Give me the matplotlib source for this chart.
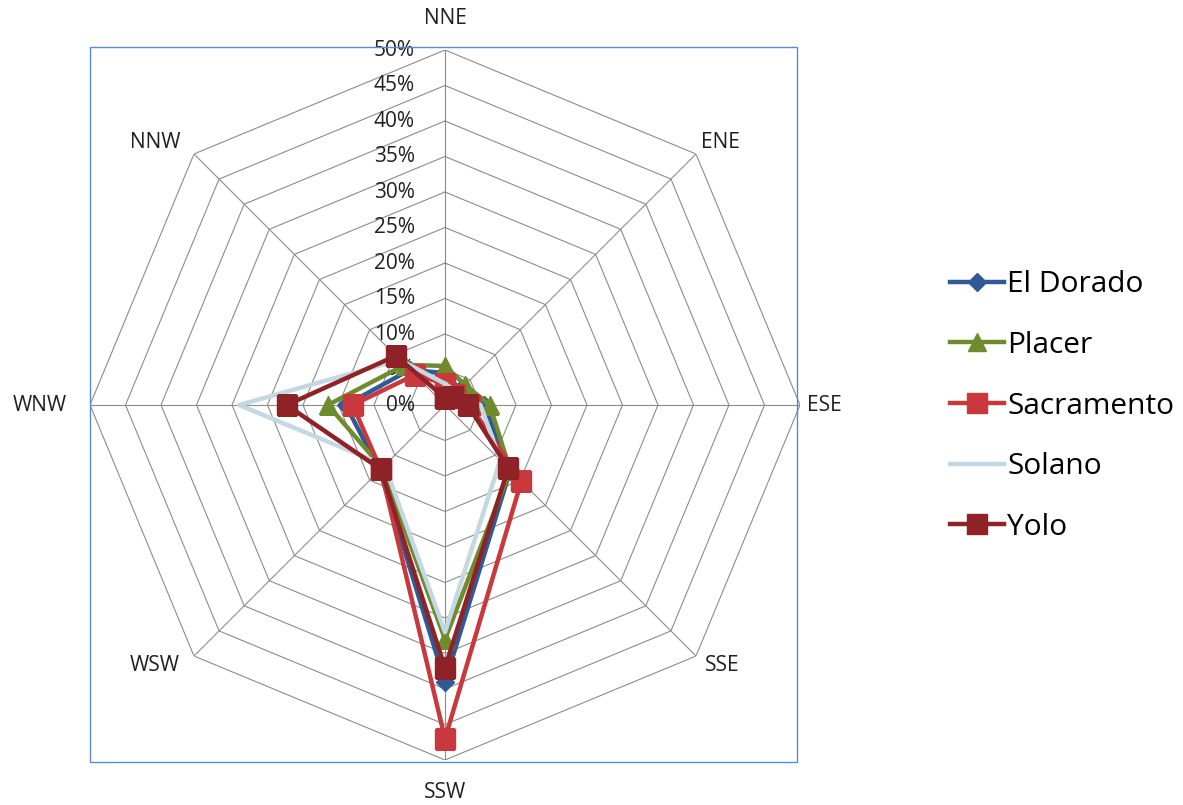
import numpy as np
import matplotlib
matplotlib.use("Agg")
import matplotlib.pyplot as plt
import matplotlib.patches as mpatches
import matplotlib.transforms as mtransforms

# ── Data (percent of hours by wind direction) ─────────────────────────────────
directions = ["NNE", "ENE", "ESE", "SSE", "SSW", "WSW", "WNW", "NNW"]
el_dorado  = [4.5, 3.0, 5.5, 13.0, 39.0, 13.0, 14.0, 7.0]
placer     = [5.5, 4.0, 6.3, 13.0, 33.0, 12.5, 16.5, 8.0]
sacramento = [3.0, 2.0, 3.5, 15.2, 47.0, 12.8, 13.0, 6.0]
solano     = [3.0, 2.5, 5.0, 11.0, 32.0, 12.0, 29.0, 9.0]
yolo       = [1.0, 1.5, 3.2, 12.6, 37.0, 12.8, 22.3, 9.8]
ticks      = [0, 5, 10, 15, 20, 25, 30, 35, 40, 45, 50]

series = [
    ("El Dorado",  el_dorado,  "#2F5A96", "D", 9),
    ("Placer",     placer,     "#6E8B2E", "^", 13),
    ("Sacramento", sacramento, "#C8383C", "s", 14),
    ("Solano",     solano,     "#C3D8E3", None, 0),
    ("Yolo",       yolo,       "#8E2226", "s", 14),
]

# pixel offsets of the direction labels from the outer ring vertex
label_off = [(0, 32), (24, 11), (24, 0), (26, -9),
             (0, -32), (-39, -9), (-50, 0), (-39, 11)]

plt.rcParams.update({"font.family": ["Open Sans", "DejaVu Sans"]})

W, H = 1183, 805
fig = plt.figure(figsize=(W / 100, H / 100), dpi=100)

# blue chart frame
fig.patches.append(mpatches.Rectangle((90 / W, 1 - 762 / H), 707 / W, 715 / H,
                                      transform=fig.transFigure, fill=False,
                                      edgecolor="#5B8BD0", linewidth=1.0))

cx, cy, R = 445, 405, 355
ax = fig.add_axes([(cx - R) / W, (H - cy - R) / H, 2 * R / W, 2 * R / H],
                  projection="polar")
ax.set_theta_zero_location("N")
ax.set_theta_direction(-1)
ax.set_ylim(0, 50)
ax.grid(False)
ax.spines["polar"].set_visible(False)
ax.set_xticks([])
ax.set_yticks([])
ax.patch.set_alpha(0)

angles = np.arange(len(directions)) * 2 * np.pi / len(directions)
closed = np.append(angles, angles[0])

# octagonal grid
for t in ticks[1:]:
    ax.plot(closed, [t] * len(closed), color="#8C8C8C", lw=0.8, zorder=1)
for a in angles:
    ax.plot([a, a], [0, 50], color="#8C8C8C", lw=0.8, zorder=1)

# radial labels
off = mtransforms.offset_copy(ax.transData, fig=fig, x=-30, y=0, units="dots")
for t in ticks:
    ax.text(0, t, f"{t}%", transform=off, ha="right", va="center",
            fontsize=15, color="#202020", zorder=2)

# direction labels
for a, d, (dx, dy) in zip(angles, directions, label_off):
    tr = mtransforms.offset_copy(ax.transData, fig=fig, x=dx, y=dy, units="dots")
    ax.text(a, 50, d, transform=tr, ha="center", va="center",
            fontsize=15, color="#202020", clip_on=False)

handles = []
for name, vals, col, mk, ms in series:
    v = np.append(vals, vals[0])
    ln, = ax.plot(closed, v, color=col, lw=3.2, marker=mk, markersize=ms,
                  markerfacecolor=col, markeredgecolor=col, zorder=3,
                  label=name)
    handles.append(ln)

fig.legend(handles=handles, loc="center left", bbox_to_anchor=(938 / W, 1 - 406 / H),
           frameon=False, fontsize=21.5, handlelength=1.8, handletextpad=0.12,
           labelspacing=1.06, borderaxespad=0)

fig.savefig("out.png", dpi=100)
